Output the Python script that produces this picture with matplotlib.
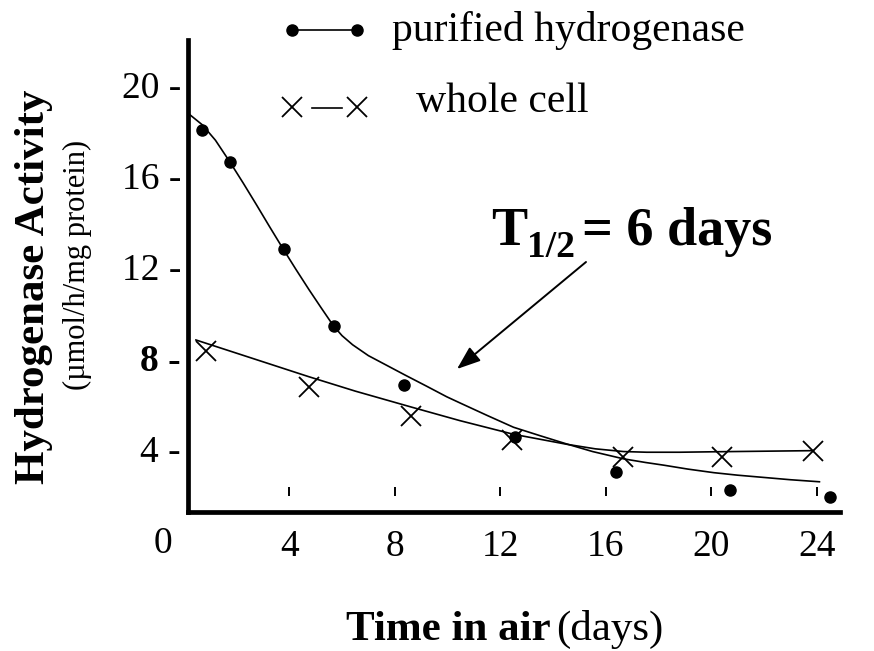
import matplotlib
matplotlib.use("Agg")
import matplotlib.pyplot as plt
from matplotlib.lines import Line2D

# ---------------- data ----------------
days_purified = [0.7, 1.75, 3.8, 5.7, 8.35, 12.55, 16.4, 20.7, 24.5]
act_purified = [18.05, 16.6, 12.8, 9.4, 6.8, 4.5, 3.0, 2.2, 1.9]

days_whole = [0.85, 4.75, 8.6, 12.45, 16.65, 20.4, 23.85]
act_whole = [8.3, 6.7, 5.45, 4.4, 3.65, 3.65, 3.9]

# fitted curves drawn in the reference
fit_purified_x = [0.20, 0.70, 1.20, 1.75, 2.25, 2.75, 3.25, 3.77, 4.25, 4.75, 5.20,
                  5.67, 6.00, 6.40, 7.00, 7.44, 8.40, 9.20, 9.97, 10.47, 11.50,
                  12.50, 13.50, 14.50, 15.50, 16.67, 17.50, 18.20, 19.10, 20.10,
                  21.00, 22.00, 23.00, 24.10]
fit_purified_y = [18.73, 18.26, 17.58, 16.62, 15.70, 14.75, 13.78, 12.79, 11.90,
                  11.00, 10.22, 9.42, 8.98, 8.58, 8.10, 7.83, 7.24, 6.76, 6.29,
                  6.02, 5.47, 4.95, 4.58, 4.22, 3.88, 3.56, 3.40, 3.28, 3.11,
                  2.95, 2.84, 2.74, 2.64, 2.55]

fit_whole_x = [0.46, 2.50, 4.75, 6.50, 8.62, 10.47, 12.50, 14.52, 15.60, 16.67,
               17.55, 18.80, 20.08, 23.87]
fit_whole_y = [8.79, 8.02, 7.17, 6.54, 5.84, 5.24, 4.64, 4.20, 4.00, 3.88,
               3.85, 3.85, 3.87, 3.92]

y_ticks = [4, 8, 12, 16, 20]
x_ticks = [4, 8, 12, 16, 20, 24]

W, H = 874, 651
plt.rcParams['font.family'] = ['Liberation Serif', 'DejaVu Serif']

fig = plt.figure(figsize=(W / 100, H / 100), dpi=100)
fig.patch.set_facecolor('white')


def fx(px):
    return px / W


def fy(py):
    return 1 - py / H


# axes: left spine at x=188, bottom spine at y=512, top at 40, right at 840
ax = fig.add_axes([fx(188), fy(512), (840 - 188) / W, (512 - 40) / H])
ax.set_xlim(0.16, 24.88)
ax.set_ylim(1.22, 21.99)

for s in ['top', 'right']:
    ax.spines[s].set_visible(False)
for s in ['left', 'bottom']:
    ax.spines[s].set_linewidth(3.4)
    ax.spines[s].set_color('black')

# ticks
ax.set_yticks(y_ticks)
ax.set_yticklabels([f"{v} -" for v in y_ticks])
ax.set_xticks(x_ticks)
ax.set_xticklabels([str(v) for v in x_ticks])
ax.tick_params(axis='y', length=0, pad=5, labelsize=27)
ax.tick_params(axis='x', length=0, pad=12.5, labelsize=27)
for lab in ax.get_yticklabels():
    if lab.get_text().startswith('8'):
        lab.set_fontweight('bold')

# inner x tick marks (detached from the axis)
ax.vlines(x_ticks, 0.034, 0.053, transform=ax.get_xaxis_transform(),
          colors='black', linewidth=1.4)

# "0" at the origin
fig.text(fx(163), fy(544), "0", fontsize=27, ha='center', va='center')

# fitted curves
ax.plot(fit_purified_x, fit_purified_y, color='black', lw=1.2, clip_on=False,
        solid_joinstyle='round')
ax.plot(fit_whole_x, fit_whole_y, color='black', lw=1.2, clip_on=False,
        solid_joinstyle='round')

# data points
ax.plot(days_purified, act_purified, linestyle='none', marker='o', markersize=8,
        color='black', clip_on=False)
ax.plot(days_whole, act_whole, linestyle='none', marker='x', markersize=14.5,
        markeredgewidth=1.3, color='black', clip_on=False)

# axis labels
fig.text(fx(34), fy(287), "Hydrogenase Activity", rotation=90, fontsize=31,
         fontweight='bold', ha='center', va='center')
fig.text(fx(77), fy(265), "(\u00b5mol/h/mg protein)", rotation=90, fontsize=22,
         ha='center', va='center')
fig.text(fx(346), fy(640), "Time in air", fontsize=31, fontweight='bold',
         ha='left', va='baseline')
fig.text(fx(556), fy(640), "(days)", fontsize=31, ha='left', va='baseline')

# legend (drawn by hand like the reference)
fig.add_artist(Line2D([fx(292), fx(357)], [fy(30), fy(30)], color='black', lw=1.2,
                      marker='o', markersize=8, transform=fig.transFigure))
fig.text(fx(392), fy(41), "purified hydrogenase", fontsize=30, ha='left', va='baseline')
fig.add_artist(Line2D([fx(292), fx(357)], [fy(107), fy(107)], linestyle='none',
                      marker='x', markersize=14.5, markeredgewidth=1.3, color='black',
                      transform=fig.transFigure))
fig.add_artist(Line2D([fx(312), fx(342)], [fy(108), fy(108)], color='black', lw=1.2,
                      transform=fig.transFigure))
fig.text(fx(416), fy(112), "whole cell", fontsize=30, ha='left', va='baseline')

# half-life annotation
fig.text(fx(491), fy(245), "T", fontsize=39, fontweight='bold', ha='left', va='baseline')
fig.text(fx(527), fy(257), "1/2", fontsize=27, fontweight='bold', ha='left', va='baseline')
fig.text(fx(582), fy(245), "= 6 days", fontsize=39, fontweight='bold', ha='left',
         va='baseline')
ax.annotate('', xy=(fx(457), fy(369)), xytext=(fx(586), fy(262)),
            xycoords='figure fraction', textcoords='figure fraction',
            arrowprops=dict(arrowstyle='-|>,head_length=0.72,head_width=0.27',
                            mutation_scale=20, lw=1.4, color='black',
                            shrinkA=0, shrinkB=0))

fig.savefig("out.png", dpi=100, facecolor='white')
